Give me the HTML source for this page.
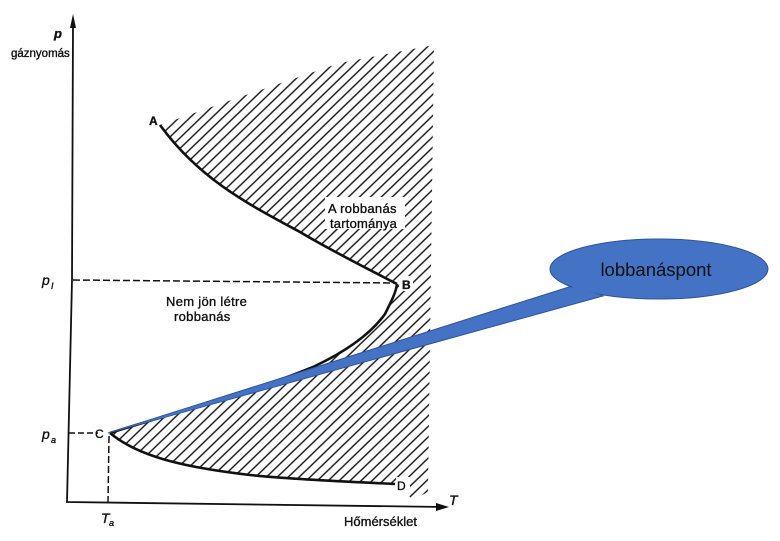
<!DOCTYPE html>
<html><head><meta charset="utf-8"><style>
html,body{margin:0;padding:0;background:#fff;}
svg{display:block;}
text{font-family:"Liberation Sans",sans-serif;fill:#111;}
</style></head><body>
<svg width="780" height="541" viewBox="0 0 780 541" xmlns="http://www.w3.org/2000/svg">
<defs>
<pattern id="h" width="12" height="7.6" patternUnits="userSpaceOnUse" patternTransform="rotate(-44)">
<line x1="0" y1="3.8" x2="12" y2="3.8" stroke="#111" stroke-width="1.4"/>
</pattern>
</defs>
<rect width="780" height="541" fill="#fff"/>
<!-- hatched region -->
<path d="M160,125 L240,97 L340,63 L434,45 L428,492 L412,500 L402,486 L395,484
C360,482 300,480 250,475 C190,468 140,458 110,433
C170,414 250,393 313,367 C345,352 370,335 385,314 C392,300 396,292 397,284
C370,270 330,250 300,232 C250,205 200,180 160,125 Z" fill="url(#h)"/>
<!-- white boxes for labels -->
<rect x="325" y="197" width="80" height="32" fill="#fff"/>
<rect x="399" y="276" width="14" height="15" fill="#fff"/>
<rect x="396" y="477" width="14" height="15" fill="#fff"/>
<!-- axes -->
<path d="M73,24 L72,280 L67,502 L445,507" fill="none" stroke="#111" stroke-width="1.8"/>
<path d="M73,14 L70,28 L76,28 Z" fill="#111"/>
<path d="M449,507 L436,503 L436,511 Z" fill="#111"/>
<!-- dashed lines -->
<path d="M73,280 L395,283" stroke="#111" stroke-width="1.5" stroke-dasharray="7,3" fill="none"/>
<path d="M69,433 L98,433" stroke="#111" stroke-width="1.5" stroke-dasharray="6,3" fill="none"/>
<path d="M109,436 L108,502" stroke="#111" stroke-width="1.5" stroke-dasharray="7,3" fill="none"/>
<!-- curves -->
<path d="M160,125 C200,180 250,205 300,232 C330,250 370,270 397,284" fill="none" stroke="#111" stroke-width="2.6"/>
<path d="M397,284 C396,292 392,300 385,314 C370,335 345,352 313,367 C250,393 170,414 110,433" fill="none" stroke="#111" stroke-width="2.6"/>
<path d="M110,433 C140,458 190,468 250,475 C300,480 360,482 395,484" fill="none" stroke="#111" stroke-width="2.6"/>
<!-- labels -->
<g stroke="#111" stroke-width="0.35">
<text x="54" y="38" font-size="13" font-style="italic" font-weight="bold">p</text>
<text x="11" y="57" font-size="11.5">gáznyomás</text>
<text x="149" y="125" font-size="12" font-weight="bold">A</text>
<text x="402" y="289" font-size="12" font-weight="bold">B</text>
<text x="95" y="438" font-size="12">C</text>
<text x="397" y="490" font-size="12">D</text>
<text x="42" y="285" font-size="14" font-style="italic">p</text>
<text x="51" y="289" font-size="9" font-style="italic">I</text>
<text x="42" y="439" font-size="14" font-style="italic">p</text>
<text x="51" y="443" font-size="9" font-style="italic">a</text>
<text x="101" y="523" font-size="14" font-style="italic">T</text>
<text x="109" y="526" font-size="9" font-style="italic">a</text>
<text x="449" y="505" font-size="14" font-style="italic">T</text>
<text x="344" y="526" font-size="13">Hőmérséklet</text>
<text x="328" y="213" font-size="13" letter-spacing="0.3">A robbanás</text>
<text x="330" y="228" font-size="13" letter-spacing="0.2">tartománya</text>
<text x="166" y="306" font-size="13" letter-spacing="0.3">Nem jön létre</text>
<text x="174" y="321" font-size="13" letter-spacing="0.3">robbanás</text>
</g>
<!-- callout -->
<path d="M108,433 L572,286 L603,296 Z" fill="#4472C4" stroke="#2F5597" stroke-width="1"/>
<ellipse cx="659" cy="269" rx="109" ry="30" fill="#4472C4" stroke="#2F5597" stroke-width="1"/>
<path d="M112,432 L574,287 L601,295 Z" fill="#4472C4"/>
<text x="656" y="276" font-size="18.5" text-anchor="middle" fill="#111">lobbanáspont</text>
</svg>
</body></html>
